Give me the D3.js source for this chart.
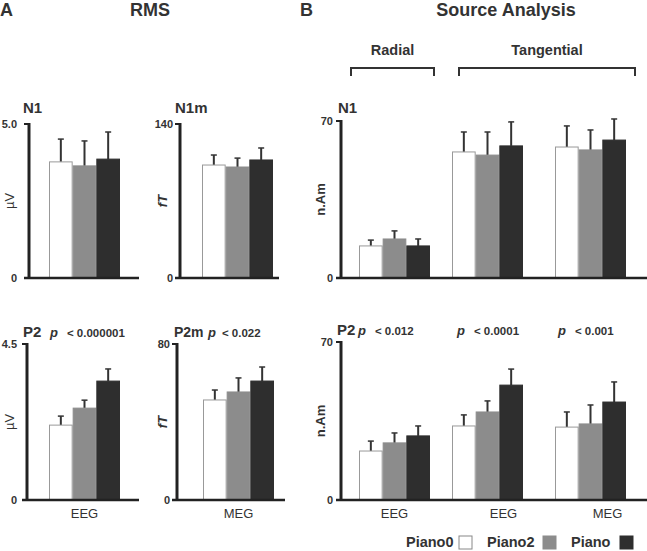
<!DOCTYPE html>
<html>
<head>
<meta charset="utf-8">
<script src="https://cdn.jsdelivr.net/npm/d3@7"></script>
<style>
body{margin:0;background:#fff;}
text{font-family:"Liberation Sans",Arial,sans-serif;fill:#333;}
</style>
</head>
<body>
<svg id="chart" width="647" height="551"></svg>
<script>
// conditions
var series = ["Piano0", "Piano2", "Piano"];
var seriesColor = ["#ffffff", "#8c8c8c", "#2e2e2e"];

// A - RMS
var rmsN1 = [3.77, 3.64, 3.86];
var rmsN1Err = [0.74, 0.81, 0.88];
var rmsN1m = [102.7, 100.9, 107.3];
var rmsN1mErr = [9.1, 8.1, 10.9];
var rmsP2 = [2.16, 2.65, 3.43];
var rmsP2Err = [0.26, 0.23, 0.35];
var rmsP2m = [51.3, 55.4, 61.0];
var rmsP2mErr = [5.1, 7.2, 7.2];

// B - source analysis (radial EEG, tangential EEG, tangential MEG)
var srcGroups = ["Radial EEG", "Tangential EEG", "Tangential MEG"];
var srcGroupLabels = ["EEG", "EEG", "MEG"];
var srcN1 = [[14.3, 17.4, 14.3], [56.2, 54.8, 58.9], [58.4, 57.1, 61.5]];
var srcN1Err = [[2.6, 3.6, 3.1], [8.9, 10.3, 10.7], [9.4, 8.9, 9.4]];
var srcP2 = [[21.7, 25.3, 28.4], [32.8, 39.0, 50.9], [32.3, 33.7, 43.4]];
var srcP2Err = [[4.4, 4.4, 4.4], [4.9, 4.9, 7.1], [6.7, 8.4, 8.9]];
var srcP2pvals = ["< 0.012", "< 0.0001", "< 0.001"];

var svg = d3.select("#chart");

function draw_panel(cfg){
    var g = svg.append("g");
    var y = d3.scaleLinear().domain([0, cfg.max]).range([cfg.base, cfg.top]);
    var gx = d3.scaleOrdinal().domain(cfg.groups).range(cfg.groupX);
    var bx = d3.scaleBand().domain(series).range([0, 71]).padding(0);

    // bars
    cfg.groups.forEach(function(grp, gi){
        var gg = g.append("g").attr("transform", "translate(" + gx(grp) + ",0)");
        series.forEach(function(s, si){
            var v = cfg.values[gi][si];
            var e = cfg.errs[gi][si];
            var cx = bx(s) + bx.bandwidth() / 2;
            gg.append("line")
                .attr("x1", cx).attr("x2", cx)
                .attr("y1", y(v)).attr("y2", y(v + e))
                .attr("stroke", "#333").attr("stroke-width", 2);
            gg.append("line")
                .attr("x1", cx - 3).attr("x2", cx + 3)
                .attr("y1", y(v + e)).attr("y2", y(v + e))
                .attr("stroke", "#333").attr("stroke-width", 1.5);
            gg.append("rect")
                .attr("x", bx(s) + 0.5)
                .attr("y", y(v))
                .attr("width", bx.bandwidth() - 1)
                .attr("height", y(0) - y(v))
                .attr("fill", seriesColor[si])
                .attr("stroke", si == 0 ? "#999" : seriesColor[si])
                .attr("stroke-width", 1);
        });
    });

    // y axis
    var ax = d3.axisLeft(y).tickValues([0, cfg.max]).tickSize(0)
        .tickPadding(cfg.pad)
        .tickFormat(function(d){ return d == 0 ? "0" : cfg.maxLabel; });
    var a = g.append("g").attr("transform", "translate(" + cfg.ax + ",0)").call(ax);
    a.select(".domain").remove();
    a.selectAll("text").style("font-size", "11px").style("font-weight", "bold")
        .style("font-family", "'Liberation Sans',Arial,sans-serif").attr("fill", "#333");
    g.append("line").attr("x1", cfg.ax).attr("x2", cfg.ax)
        .attr("y1", y(cfg.max) - 1).attr("y2", y(0))
        .attr("stroke", "#222").attr("stroke-width", 3);
    g.append("line").attr("x1", cfg.ax - 5).attr("x2", cfg.ax)
        .attr("y1", y(cfg.max)).attr("y2", y(cfg.max))
        .attr("stroke", "#222").attr("stroke-width", 2);
    g.append("line").attr("x1", cfg.ax - 5).attr("x2", cfg.right)
        .attr("y1", y(0)).attr("y2", y(0))
        .attr("stroke", "#222").attr("stroke-width", 2.5);

    // y label
    g.append("text")
        .attr("transform", "translate(" + cfg.labX + "," + ((cfg.top + cfg.base) / 2) + ") rotate(-90)")
        .attr("text-anchor", "middle")
        .style("font-size", "13px")
        .style("font-weight", cfg.unitBold ? "bold" : "normal")
        .style("font-style", cfg.unitItalic ? "italic" : "normal")
        .text(cfg.unit);

    // panel name
    g.append("text")
        .attr("x", cfg.ax + cfg.nameDx).attr("y", cfg.top + cfg.nameDy)
        .style("font-size", cfg.nameSize || "15px").style("font-weight", "bold")
        .text(cfg.name);

    // x labels
    if(cfg.xlabels){
        cfg.xlabels.forEach(function(l, i){
            g.append("text")
                .attr("x", gx(cfg.groups[i]) + 35.5 + cfg.xlabDx[i]).attr("y", cfg.base + 18)
                .attr("text-anchor", "middle")
                .style("font-size", "13px")
                .text(l);
        });
    }

    // p values
    if(cfg.pvals){
        cfg.pvals.forEach(function(p, i){
            var t = g.append("text").attr("x", cfg.pX[i]).attr("y", cfg.top - 7)
                .style("font-weight", "bold");
            t.append("tspan").style("font-style", "italic").style("font-size", "13px").text("p");
            t.append("tspan").attr("dx", cfg.pGap || 9).style("font-size", "11.5px").text(p);
        });
    }
    return g;
}

// ---- A: RMS ----
draw_panel({groups:["EEG"], groupX:[49], values:[rmsN1], errs:[rmsN1Err],
    max:5.0, maxLabel:"5.0", ax:29, top:124, base:278, right:139, pad:12,
    unit:"\u00b5V", labX:14, name:"N1", nameDx:-6, nameDy:-11});
draw_panel({groups:["MEG"], groupX:[202], values:[rmsN1m], errs:[rmsN1mErr],
    max:140, maxLabel:"140", ax:180, top:124, base:278, right:279, pad:7,
    unit:"fT", unitBold:true, unitItalic:true, labX:167, name:"N1m", nameDx:-5, nameDy:-11});
draw_panel({groups:["EEG"], groupX:[49], values:[rmsP2], errs:[rmsP2Err],
    max:4.5, maxLabel:"4.5", ax:27, top:344, base:500, right:139, pad:10,
    unit:"\u00b5V", labX:14, name:"P2", nameDx:-4, nameDy:-7,
    xlabels:["EEG"], xlabDx:[0], pvals:["< 0.000001"], pX:[50]});
draw_panel({groups:["MEG"], groupX:[203], values:[rmsP2m], errs:[rmsP2mErr],
    max:80, maxLabel:"80", ax:177, top:344, base:500, right:285, pad:7,
    unit:"fT", unitBold:true, unitItalic:true, labX:167, name:"P2m", nameSize:"14px", nameDx:-3, nameDy:-7,
    xlabels:["MEG"], xlabDx:[0], pvals:["< 0.022"], pX:[208], pGap:6});

// ---- B: Source analysis ----
draw_panel({groups:srcGroups, groupX:[359, 452, 555], values:srcN1, errs:srcN1Err,
    max:70, maxLabel:"70", ax:341, top:121, base:278, right:647, pad:8,
    unit:"n.Am", unitBold:true, labX:325, name:"N1", nameDx:-3, nameDy:-8});
draw_panel({groups:srcGroups, groupX:[359, 452, 555], values:srcP2, errs:srcP2Err,
    max:70, maxLabel:"70", ax:341, top:342, base:500, right:647, pad:8,
    unit:"n.Am", unitBold:true, labX:325, name:"P2", nameDx:-4, nameDy:-7,
    xlabels:srcGroupLabels, xlabDx:[0, 16, 17], pvals:srcP2pvals, pX:[358, 457, 558]});

// titles
svg.append("text").attr("x", 0).attr("y", 16).style("font-size", "18px").style("font-weight", "bold").attr("fill", "#222").text("A");
svg.append("text").attr("x", 150).attr("y", 16).attr("text-anchor", "middle").style("font-size", "18px").style("font-weight", "bold").text("RMS");
svg.append("text").attr("x", 300).attr("y", 16).style("font-size", "18px").style("font-weight", "bold").attr("fill", "#222").text("B");
svg.append("text").attr("x", 506).attr("y", 16).attr("text-anchor", "middle").style("font-size", "18px").style("font-weight", "bold").text("Source Analysis");

// brackets
var brackets = [{label:"Radial", x1:351, x2:434}, {label:"Tangential", x1:459, x2:635}];
brackets.forEach(function(b){
    svg.append("path")
        .attr("d", "M" + b.x1 + ",76V68H" + b.x2 + "V76")
        .attr("fill", "none").attr("stroke", "#333").attr("stroke-width", 2);
    svg.append("text").attr("x", (b.x1 + b.x2) / 2).attr("y", 55)
        .attr("text-anchor", "middle").style("font-size", "14.5px").style("font-weight", "bold")
        .text(b.label);
});

// legend
var legX = [406, 487, 571];
var boxX = [459, 543, 620];
series.forEach(function(s, i){
    svg.append("text").attr("x", legX[i]).attr("y", 547)
        .style("font-size", "14.5px").style("font-weight", "bold").text(s);
    svg.append("rect").attr("x", boxX[i]).attr("y", 536).attr("width", 13).attr("height", 13)
        .attr("fill", seriesColor[i]).attr("stroke", i == 0 ? "#888" : seriesColor[i]);
});
</script>
</body>
</html>
